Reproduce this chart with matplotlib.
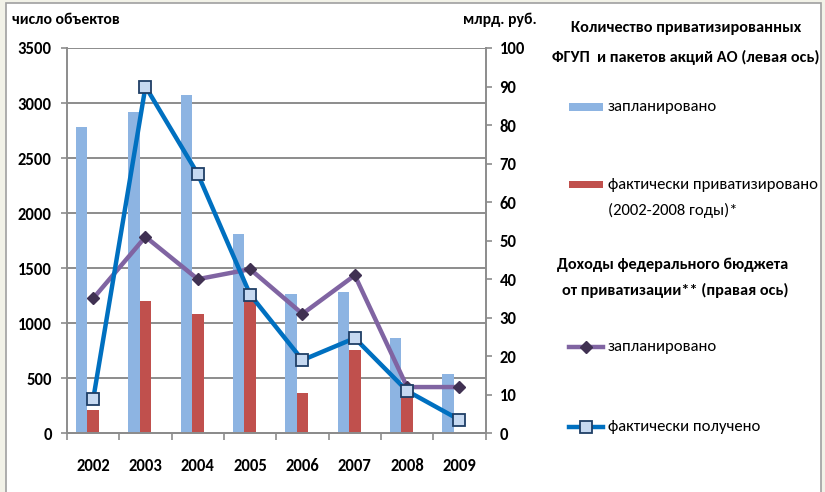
import matplotlib
matplotlib.use("Agg")
import matplotlib.pyplot as plt
import numpy as np
from matplotlib import font_manager
from matplotlib.lines import Line2D
from matplotlib.patches import Rectangle

names = {f.name for f in font_manager.fontManager.ttflist}
prefs = ["Carlito", "Liberation Sans Narrow", "Lato", "Liberation Sans"]
FAM = next(n for n in prefs if n in names)
plt.rcParams["font.family"] = [FAM, "DejaVu Sans"]

years = ["2002", "2003", "2004", "2005", "2006", "2007", "2008", "2009"]
objects_planned = [2780, 2920, 3075, 1810, 1265, 1280, 865, 535]
objects_actual = [210, 1205, 1080, 1220, 365, 755, 380, 0]
revenue_planned = [35, 51, 40, 42.6, 31, 41, 12, 12]
revenue_actual = [8.8, 90, 67.3, 36, 19, 24.7, 11, 3.5]

W, H = 825, 492
fig = plt.figure(figsize=(W / 100, H / 100), dpi=100)
GRID = "#8c8c8c"
TICK_FS = 12
TITLE_FS = 11.7
ITEM_FS = 12

# outer frame of the chart block
fig.patches.append(Rectangle((0, 0), 1, 1, transform=fig.transFigure,
                             facecolor="#f2f2e8", edgecolor="none", zorder=-3))
fig.patches.append(Rectangle((6 / W, -0.05), (821 - 6) / W, 1.05 - 3 / H,
                             transform=fig.transFigure, facecolor="white",
                             edgecolor="#a0a0a0", lw=1.2, zorder=-2))

x0, x1 = 67, 485.6
ytop, ybot = 48, 433.3
ax = fig.add_axes([x0 / W, 1 - ybot / H, (x1 - x0) / W, (ybot - ytop) / H])
ax.set_facecolor("none")
ax2 = ax.twinx()

x = np.arange(len(years))
bw = 0.22
left_ticks = np.arange(0, 3501, 500)
for v in left_ticks[1:]:
    ax.axhline(v, color=GRID, lw=1.4, zorder=0.5)
ax.bar(x - bw, objects_planned, width=bw, color="#8db4e2", zorder=2)
ax.bar(x, objects_actual, width=bw, color="#c0504d", zorder=2)

ax.set_xlim(-0.5, len(years) - 0.5)
ax.set_ylim(0, 3500)
ax.set_yticks(left_ticks)
ax.set_xticks(x)
ax.set_xticklabels(years)
ax.set_xticks(np.arange(-0.5, len(years), 1), minor=True)
ax.tick_params(axis="x", which="major", length=0, pad=18)
ax.tick_params(axis="x", which="minor", length=5, width=1.2, color=GRID)
ax.tick_params(axis="y", length=4, width=1.2, color=GRID, pad=7)
for lab in ax.get_xticklabels() + ax.get_yticklabels():
    lab.set_fontsize(TICK_FS)
    lab.set_fontweight("bold")

ax2.plot(x, revenue_planned, color="#8064a2", lw=3.2, marker="D", ms=6,
         mfc="#403152", mec="#403152", zorder=3)
ax2.plot(x, revenue_actual, color="#0070c0", lw=3.2, marker="s", ms=8.5,
         mfc="#c6d9f1", mec="#1f3f66", mew=1.3, zorder=4)
ax2.set_ylim(0, 100)
ax2.set_yticks(np.arange(0, 101, 10))
ax2.tick_params(axis="y", length=4, width=1.2, color=GRID, pad=6)
for lab in ax2.get_yticklabels():
    lab.set_fontsize(TICK_FS)
    lab.set_fontweight("bold")

for a in (ax, ax2):
    a.spines["top"].set_visible(False)
    for s in ("left", "right", "bottom"):
        a.spines[s].set_color(GRID)
        a.spines[s].set_linewidth(1.4)
ax2.spines["left"].set_visible(False)
ax.spines["right"].set_visible(False)

fig.text(12 / W, 1 - 20 / H, "число объектов", fontsize=11.3, fontweight="bold",
         va="center", ha="left")
fig.text(537 / W, 1 - 20 / H, "млрд. руб.", fontsize=11.3, fontweight="bold",
         va="center", ha="right")

# legend block
def ftext(px, py, s, **kw):
    fig.text(px / W, 1 - py / H, s, va="center", **kw)

ftext(686, 28, "Количество приватизированных", ha="center", fontsize=TITLE_FS, fontweight="bold")
ftext(686, 57, "ФГУП  и пакетов акций АО (левая ось)", ha="center", fontsize=TITLE_FS, fontweight="bold")
ftext(673, 265, "Доходы федерального бюджета", ha="center", fontsize=TITLE_FS, fontweight="bold")
ftext(675, 290, "от приватизации** (правая ось)", ha="center", fontsize=TITLE_FS, fontweight="bold")

def patch(py, color):
    fig.patches.append(Rectangle((569 / W, 1 - (py + 3.5) / H), 34 / W, 7 / H,
                                 transform=fig.transFigure, facecolor=color,
                                 edgecolor="none"))

patch(107, "#8db4e2")
patch(185, "#c0504d")
fig.lines.append(Line2D([569 / W, 603 / W], [1 - 347 / H] * 2, transform=fig.transFigure,
                        color="#8064a2", lw=3.2))
fig.lines.append(Line2D([586 / W], [1 - 347 / H], transform=fig.transFigure,
                        marker="D", ms=6, mfc="#403152", mec="#403152", lw=0))
fig.lines.append(Line2D([569 / W, 603 / W], [1 - 427 / H] * 2, transform=fig.transFigure,
                        color="#0070c0", lw=3.2))
fig.lines.append(Line2D([586 / W], [1 - 427 / H], transform=fig.transFigure,
                        marker="s", ms=8.5, mfc="#c6d9f1", mec="#1f3f66", mew=1.3, lw=0))

ftext(608, 107, "запланировано", ha="left", fontsize=ITEM_FS)
ftext(608, 185, "фактически приватизировано", ha="left", fontsize=ITEM_FS)
ftext(608, 210, "(2002-2008 годы)*", ha="left", fontsize=ITEM_FS)
ftext(608, 347, "запланировано", ha="left", fontsize=ITEM_FS)
ftext(608, 427, "фактически получено", ha="left", fontsize=ITEM_FS)

fig.savefig("out.png", dpi=100)
